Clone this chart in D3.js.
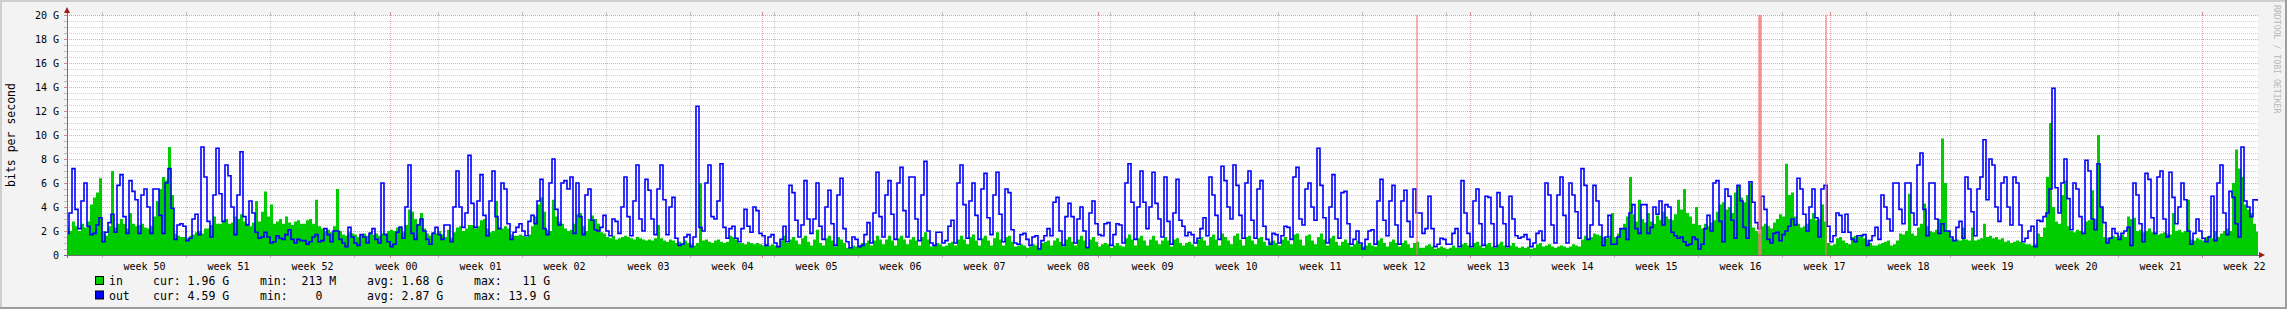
<!DOCTYPE html>
<meta charset="utf-8">
<style>
body { margin: 0; background: #f3f3f3; }
svg { display: block; }
text { font-family: "DejaVu Sans Mono", monospace; }
.axis text { font-size: 10px; fill: #000; }
.legend text { font-size: 11.5px; fill: #000; }
</style>
<body>
<div id="chart"></div>
<script src="https://d3js.org/d3.v7.min.js"></script>
<script>

// 6-hour samples, in Gbit/s, one array per month (December starts on the 5th)
var monthStarts = [Date.UTC(2014,11,5), Date.UTC(2015,0,1), Date.UTC(2015,1,1),
                   Date.UTC(2015,2,1), Date.UTC(2015,3,1), Date.UTC(2015,4,1), Date.UTC(2015,5,1)];

var outDec = [
  1.8,3.5,7.2,3.8, 2.2,4.5,6.0,2.4,  1.7,1.8,2.5,3.1, 1.1,1.9,2.7,3.4,
  1.9,5.8,6.7,3.2, 1.8,6.2,5.3,4.6,  1.8,5.0,5.5,4.0, 1.8,5.5,5.5,3.3,
  1.8,6.0,7.2,3.9, 1.3,2.5,2.6,2.4,  1.2,1.4,3.0,3.4, 1.7,9.0,6.5,2.8,
  1.5,5.0,8.9,5.1, 2.8,7.5,6.6,4.0,  1.7,5.0,8.6,3.2, 2.5,4.5,3.5,1.9,
  1.4,1.5,1.9,1.5, 1.0,1.1,1.6,1.4,  1.3,1.7,2.1,1.3, 1.0,1.3,1.2,1.2,
  0.9,1.1,1.5,1.7, 1.1,1.2,2.2,1.7,  1.1,2.0,2.0,1.3, 1.0,0.7,2.3,1.5,
  1.0,0.8,1.7,1.5, 1.0,1.8,2.2,1.3,  1.0,6.0,1.7,1.1
];
var outJan = [
  0.7,0.9,1.9,2.3, 1.4,4.0,7.5,1.8,  1.3,2.5,3.0,2.0, 1.3,0.9,1.8,2.3,
  1.7,1.3,2.5,2.5, 1.1,4.0,7.0,4.0,  2.3,3.5,8.3,4.3, 2.3,4.5,6.7,3.3,
  1.6,4.5,7.0,3.2, 2.2,6.0,5.5,2.6,  1.3,1.9,2.3,2.6, 2.0,1.6,2.8,3.3,
  2.6,4.5,6.3,2.2, 1.7,6.0,8.0,3.8,  2.5,6.0,6.2,5.5, 6.5,1.8,6.0,3.2,
  1.7,5.0,5.5,2.9, 2.1,2.0,2.3,3.3,  2.0,1.6,3.0,2.8, 1.8,4.0,6.5,3.2,
  1.6,4.5,7.5,3.0, 2.0,6.3,5.4,3.0,  1.7,5.5,7.5,4.6, 1.7,4.0,4.8,1.4,
  0.8,0.9,1.5,1.7, 0.7,1.5,12.4,2.3, 2.0,6.0,7.5,3.2, 3.0,4.5,7.6,2.3,
  1.4,2.2,2.4,1.4, 1.1,2.2,3.8,2.4,  1.9,4.0,3.7,1.8
];
var outFeb = [
  1.6,0.8,1.5,1.7, 1.0,0.7,1.3,2.4,  1.1,5.8,5.2,2.9, 1.5,2.5,6.2,3.0,
  1.8,3.0,6.0,2.4, 1.3,4.0,5.4,2.6,  0.8,5.0,6.4,2.2, 1.1,0.6,1.5,1.3,
  0.7,0.8,1.7,2.7, 1.0,3.5,6.9,3.2,  1.5,5.0,6.2,3.4, 1.3,6.0,7.3,3.7,
  1.5,6.5,6.5,3.0, 1.2,5.0,7.8,2.0,  1.0,0.8,1.9,1.9, 1.0,1.2,2.4,2.9,
  1.0,6.0,7.5,4.2, 1.4,4.5,6.0,3.3,  1.3,5.5,6.8,3.1, 1.7,5.0,6.9,3.4,
  1.1,5.5,5.2,2.1, 1.0,0.9,1.7,1.8,  1.3,0.8,1.5,1.6, 0.5,1.2,1.6,2.2,
  1.6,4.4,4.8,2.0, 0.8,3.2,4.3,3.2,  1.0,3.0,4.0,2.0, 0.6,3.5,4.5,2.6
];
var outMar = [
  1.7,1.6,2.6,2.7, 0.8,1.7,2.6,2.5,  1.0,6.0,7.6,4.4, 1.3,4.0,7.0,4.4,
  2.2,4.0,6.9,4.3, 3.0,1.5,6.5,2.8,  0.9,3.5,6.3,2.9, 2.4,1.6,1.9,1.7,
  1.0,1.4,2.2,3.1, 1.6,6.5,5.0,3.3,  1.3,7.4,6.2,4.0, 3.0,7.5,5.8,3.3,
  1.4,6.0,7.0,2.9, 1.4,5.5,6.2,2.4,  1.3,0.9,1.8,1.7, 1.0,1.6,2.4,2.3,
  1.3,6.5,7.3,3.0, 2.5,5.5,6.0,4.0,  2.9,8.9,5.8,3.1, 1.0,4.0,6.7,3.0,
  1.4,5.2,5.3,2.6, 0.9,1.3,2.0,1.0,  0.5,1.3,2.0,2.1, 0.9,4.5,6.3,2.9,
  1.6,4.5,5.8,2.5, 0.9,4.5,5.4,2.8,  1.5,5.5,3.5,3.5, 1.8,2.2,4.9,2.2,
  0.7,0.9,1.4,1.3, 0.9,0.9,1.8,2.2,  0.7,6.2,3.5,1.8
];
var outApr = [
  0.7,4.5,5.5,2.6, 0.8,4.9,4.8,2.6,  0.7,5.2,4.0,2.6, 0.7,4.9,3.0,1.6,
  1.4,1.5,1.7,1.3, 0.7,1.0,1.8,2.0,  1.2,6.0,5.0,2.5, 1.0,5.0,6.5,3.3,
  1.0,6.0,5.0,3.6, 1.4,7.2,5.8,1.3,  2.5,5.8,4.5,2.5, 0.8,1.5,3.3,0.9,
  0.9,1.5,2.2,2.2, 1.3,3.5,4.2,2.2,  1.8,4.2,4.2,1.8, 2.3,4.0,3.4,4.5,
  2.5,4.2,4.0,1.9, 1.6,1.4,1.5,1.1,  0.8,0.9,1.5,1.3, 0.5,0.9,2.2,3.3,
  2.0,6.0,6.2,2.8, 1.1,5.5,4.9,2.9,  1.4,5.8,4.5,2.3, 1.4,6.1,4.4,2.7,
  2.2,4.9,3.8,1.3, 1.0,1.8,1.9,1.2,  1.7,2.0,2.4,3.0, 2.5,6.4,5.5,3.4,
  2.0,4.0,5.5,3.1, 1.5,5.5,5.8,2.4
];
var outMay = [
  1.1,1.6,3.5,3.3, 1.9,3.4,1.9,1.3,  1.1,1.6,1.6,1.7, 0.8,1.2,1.6,2.3,
  1.3,5.0,4.0,3.0, 2.0,6.0,6.0,3.8,  2.6,6.0,6.0,3.5, 2.5,7.5,8.5,3.8,
  1.6,6.0,6.0,3.0, 1.8,2.6,2.0,2.0,  1.5,1.2,2.3,2.8, 1.4,6.5,5.5,3.6,
  1.6,5.5,6.5,9.6, 4.6,8.0,7.5,4.0,  2.8,6.0,6.5,4.0, 2.5,6.5,6.0,2.5,
  1.1,1.4,2.0,2.4, 0.7,2.9,2.8,3.2,  3.5,5.5,13.9,5.6, 3.5,6.0,8.0,4.7,
  2.1,6.0,5.5,3.2, 1.8,7.9,7.0,3.0,  2.1,7.6,4.0,2.7, 1.0,1.4,2.2,1.8,
  1.3,1.8,2.0,2.3, 0.8,6.0,5.0,2.6,  1.1,6.8,6.3,3.1, 1.8,6.5,7.0,3.0,
  1.5,6.9,4.8,2.6, 4.0,6.0,4.6,2.0,  0.9,1.8,3.0,2.0
];
var outJun = [
  1.4,1.1,1.5,4.9, 1.2,6.0,7.5,3.5,  1.7,5.3,4.8,2.6, 1.5,9.0,4.5,4.0,
  3.2,4.6,4.59
];

var inDec = [
  2.3,2.0,2.8,2.4, 2.0,2.6,2.3,2.8,  4.2,4.8,5.2,6.4, 2.0,1.6,2.4,7.0,
  2.3,2.6,3.0,2.6, 2.2,3.5,2.6,2.4,  2.5,2.6,2.3,2.2, 2.4,3.2,4.5,5.5,
  6.5,6.2,9.0,5.0, 1.8,1.6,1.5,1.5,  1.4,1.6,1.7,1.9, 2.0,1.8,2.2,2.2,
  2.5,3.2,2.6,2.6, 2.8,3.0,2.6,2.7,  3.2,3.0,3.4,2.8, 2.6,2.4,2.7,4.5,
  2.8,3.6,5.3,3.2, 4.2,2.6,2.8,3.0,  2.6,3.2,2.7,2.5, 2.8,2.9,2.6,2.6,
  2.9,3.0,2.6,4.6, 2.4,2.2,2.0,2.1,  1.9,2.4,5.5,2.0, 1.7,1.6,1.9,1.8,
  1.7,1.5,1.6,1.8, 1.6,1.9,1.7,1.8,  1.6,1.8,1.8,2.0
];
var inJan = [
  2.1,2.0,2.3,2.4, 1.9,2.5,3.8,3.6,  3.0,2.6,3.5,2.2, 1.8,1.6,1.9,1.8,
  2.0,1.7,1.5,2.1, 1.4,1.9,2.3,2.4,  2.0,2.2,2.5,2.5, 2.2,2.4,2.9,3.0,
  2.2,1.9,2.0,4.5, 2.3,2.2,2.4,2.2,  1.7,1.6,1.6,1.7, 1.6,1.5,1.7,2.4,
  3.2,4.2,4.8,3.6, 2.1,2.0,4.6,3.2,  2.8,2.6,2.2,2.0, 2.1,2.6,3.4,3.5,
  2.4,2.0,3.0,3.3, 3.0,2.6,1.9,1.8,  1.5,1.4,1.6,1.3, 1.4,1.5,1.6,1.5,
  1.4,1.3,1.5,1.4, 1.3,1.2,1.3,1.2,  1.4,2.5,1.4,1.2, 1.1,1.3,1.2,1.0,
  1.1,1.0,1.2,1.0, 0.9,0.8,1.0,6.0,  1.2,1.3,1.1,1.0, 1.2,1.3,1.1,1.0,
  1.1,1.6,1.5,1.3, 1.0,1.0,0.9,1.1,  1.0,0.9,1.0,0.9
];
var inFeb = [
  0.8,0.9,0.8,0.9, 0.8,0.7,1.2,1.6,  1.0,1.3,1.5,1.2, 0.9,1.4,1.6,1.1,
  0.8,1.3,2.1,1.0, 0.8,1.4,1.6,1.2,  0.7,1.5,1.3,1.0, 0.6,0.6,0.8,0.7,
  0.8,1.0,1.0,1.2, 0.8,1.2,1.6,1.3,  0.9,1.3,1.6,1.2, 0.8,1.4,1.6,1.3,
  0.9,1.3,1.5,1.2, 0.8,1.5,1.9,1.3,  0.7,0.8,1.0,0.9, 0.7,0.8,1.0,1.1,
  0.8,1.3,1.6,1.3, 0.9,1.5,1.7,1.2,  0.8,1.4,1.6,1.2, 0.8,1.4,1.9,1.3,
  0.8,1.5,1.6,1.1, 0.7,0.8,0.9,0.8,  0.6,0.7,0.9,0.8, 0.6,1.0,1.1,1.2,
  0.8,1.2,1.4,1.1, 0.7,1.3,1.5,1.1,  0.8,1.3,1.6,1.2, 0.7,1.3,1.5,1.1
];
var inMar = [
  0.7,0.9,1.0,0.9, 0.6,0.8,1.0,0.8,  0.7,1.4,1.7,1.3, 0.8,1.4,1.6,1.2,
  0.8,1.3,1.6,1.2, 0.9,1.2,1.5,1.2,  0.7,1.3,1.4,1.0, 0.8,1.0,1.1,0.9,
  0.7,1.3,1.5,1.2, 0.8,1.5,1.7,1.3,  0.8,1.8,1.5,1.2, 0.9,1.6,1.8,1.3,
  0.8,1.5,1.6,1.2, 0.9,1.4,1.5,1.1,  0.8,1.1,1.2,1.0, 0.8,1.3,1.5,1.2,
  0.9,1.7,1.8,1.3, 0.8,1.6,1.7,1.2,  0.9,1.5,1.8,1.3, 0.8,1.4,1.6,1.1,
  0.8,1.1,1.3,1.0, 0.7,0.9,1.2,0.9,  0.7,0.8,1.0,0.8, 0.7,1.2,1.4,1.0,
  0.7,1.1,1.3,1.0, 0.7,1.0,1.2,0.9,  0.6,1.0,1.1,0.6, 0.6,0.8,0.9,0.7,
  0.5,0.6,0.7,0.6, 0.5,0.6,0.8,0.6,  0.6,0.9,1.0,0.8
];
var inApr = [
  0.6,1.0,1.1,0.8, 0.6,0.9,1.0,0.7,  0.6,0.9,1.1,0.8, 0.6,0.8,1.0,0.7,
  0.6,0.7,0.6,0.7, 0.5,0.6,0.9,1.0,  0.7,0.8,0.9,0.7, 0.6,0.7,0.8,0.7,
  0.6,0.7,0.9,0.8, 0.7,1.3,1.6,1.4,  1.5,1.8,1.7,1.6, 1.5,1.4,1.6,3.5,
  1.5,1.8,2.2,2.6, 3.2,6.5,3.4,2.8,  4.6,3.0,2.7,3.5, 2.8,2.6,3.3,2.9,
  3.6,3.2,3.0,2.9, 3.4,4.6,3.8,5.5,  3.5,3.2,2.6,4.0, 2.5,2.2,2.6,2.4,
  2.7,2.9,3.6,4.2, 4.4,3.8,4.0,3.5,  5.2,5.8,4.8,4.4, 5.0,6.0,2.3,2.0,
  1.8,2.4,2.6,2.4, 2.2,2.7,3.0,3.4,  3.2,7.6,5.0,5.2, 3.2,2.6,2.3,2.4,
  2.6,3.0,3.5,2.9, 3.0,4.2,2.8,1.0
];
var inMay = [
  0.8,0.9,1.4,1.5, 1.2,1.0,0.9,1.5,  1.6,1.5,1.7,1.4, 1.3,1.0,0.8,0.8,
  0.9,1.0,1.1,1.2, 0.8,0.9,1.2,1.8,  1.7,2.0,5.1,1.8, 1.6,2.3,2.6,4.3,
  2.4,2.0,1.9,2.1, 3.0,9.7,6.0,2.0,  1.4,1.2,1.3,1.2, 2.3,1.3,1.2,2.3,
  1.2,1.3,1.4,2.6, 1.5,1.6,1.4,1.5,  1.3,1.4,1.1,1.2, 1.0,1.1,1.2,1.1,
  1.0,0.9,0.9,0.8, 0.9,1.8,1.5,2.3,  6.5,11.0,4.0,2.8, 2.6,5.0,6.2,2.4,
  2.0,1.9,2.1,2.0, 1.8,2.8,2.9,5.4,  3.0,10.0,4.0,1.5, 1.4,1.5,1.6,1.5,
  1.6,1.7,1.5,3.2, 3.0,3.1,2.0,2.1,  1.9,2.0,2.2,1.9, 1.8,1.7,1.8,1.9,
  1.8,1.7,3.5,2.0, 2.1,1.9,2.0,4.6,  1.3,1.2,1.4,1.3
];
var inJun = [
  1.2,1.5,1.6,1.4, 2.0,1.5,1.8,2.0,  2.2,2.0,6.0,8.8, 7.2,6.5,4.2,3.8,
  3.5,2.6,1.96
];

var yTicks = [0, 2, 4, 6, 8, 10, 12, 14, 16, 18, 20];
var weekLabels = ['week 50', 'week 51', 'week 52', 'week 00', 'week 01', 'week 02', 'week 03',
  'week 04', 'week 05', 'week 06', 'week 07', 'week 08', 'week 09', 'week 10', 'week 11',
  'week 12', 'week 13', 'week 14', 'week 15', 'week 16', 'week 17', 'week 18', 'week 19',
  'week 20', 'week 21', 'week 22'];
// red markers (the wide one is three events close together)
var events = [Date.UTC(2015,2,27,14), Date.UTC(2015,3,25,2), Date.UTC(2015,3,25,4),
              Date.UTC(2015,3,25,6), Date.UTC(2015,3,30,16)];
var legendNames = ['in', 'out'];
var legendCur = ['1.96 G', '4.59 G'];
var legendMin = [' 213 M', '   0'];
var legendAvg = ['1.68 G', '2.87 G'];
var legendMax = ['  11 G', '13.9 G'];

var width = 2287, height = 309,
    plot = {left: 67, right: 2258, top: 15, bottom: 255},
    colIn = '#00cc00', colOut = '#0000ff';

var start = new Date(Date.UTC(2014,11,5)), end = new Date(Date.UTC(2015,5,5,16));

function series(parts) {
  var pts = [];
  parts.forEach(function(vals, m) {
    vals.forEach(function(v, i) {
      pts.push({t: new Date(monthStarts[m] + i * 6 * 3600e3), v: v});
    });
  });
  pts.push({t: end, v: pts[pts.length - 1].v});
  return pts;
}
var dataIn = series([inDec, inJan, inFeb, inMar, inApr, inMay, inJun]);
var dataOut = series([outDec, outJan, outFeb, outMar, outApr, outMay, outJun]);

var x = d3.scaleUtc().domain([start, end]).range([66, plot.right]);
var y = d3.scaleLinear().domain([0, 20]).range([plot.bottom, plot.top]);

var svg = d3.select('#chart').append('svg')
  .attr('width', width).attr('height', height);

// background and frame
svg.append('rect').attr('width', width).attr('height', height).attr('fill', '#f3f3f3');
svg.append('rect').attr('x', 0).attr('y', 0).attr('width', width).attr('height', 2).attr('fill', '#cfcfcf');
svg.append('rect').attr('x', 0).attr('y', 0).attr('width', 2).attr('height', height).attr('fill', '#cfcfcf');
svg.append('rect').attr('x', 0).attr('y', height - 2).attr('width', width).attr('height', 2).attr('fill', '#9e9e9e');
svg.append('rect').attr('x', width - 2).attr('y', 0).attr('width', 2).attr('height', height).attr('fill', '#9e9e9e');

svg.append('rect')
  .attr('x', plot.left).attr('y', plot.top)
  .attr('width', plot.right - plot.left).attr('height', plot.bottom - plot.top)
  .attr('fill', '#fff');

svg.append('clipPath').attr('id', 'clip').append('rect')
  .attr('x', plot.left).attr('y', plot.top)
  .attr('width', plot.right - plot.left).attr('height', plot.bottom - plot.top);

// grid
var minorY = d3.range(0.5, 20.01, 0.5).filter(function(v) { return v % 2 !== 0; });
var mondays = d3.utcMonday.range(start, end);
var months = d3.utcMonth.range(start, end);
var isMonth = function(d) { return months.some(function(m) { return +m === +d; }); };
var grid = svg.append('g').attr('shape-rendering', 'crispEdges');

grid.selectAll('.hminor').data(minorY).enter().append('line')
  .attr('x1', plot.left).attr('x2', plot.right)
  .attr('y1', function(d) { return y(d); }).attr('y2', function(d) { return y(d); })
  .attr('stroke', '#cfcfcf').attr('stroke-dasharray', '1,1');
grid.selectAll('.vminor').data(mondays.filter(function(d) { return !isMonth(d); })).enter().append('line')
  .attr('x1', function(d) { return x(d); }).attr('x2', function(d) { return x(d); })
  .attr('y1', plot.top).attr('y2', plot.bottom)
  .attr('stroke', '#cfcfcf').attr('stroke-dasharray', '1,1');
grid.selectAll('.hmajor').data(yTicks.slice(1)).enter().append('line')
  .attr('x1', plot.left).attr('x2', plot.right)
  .attr('y1', function(d) { return y(d); }).attr('y2', function(d) { return y(d); })
  .attr('stroke', '#e3a6a6').attr('stroke-dasharray', '1,1');
grid.selectAll('.vmajor').data(months).enter().append('line')
  .attr('x1', function(d) { return x(d); }).attr('x2', function(d) { return x(d); })
  .attr('y1', plot.top).attr('y2', plot.bottom)
  .attr('stroke', '#e3a6a6').attr('stroke-dasharray', '1,1');

// small ticks on the frame of the plot
grid.selectAll('.ht').data(minorY.concat(yTicks)).enter().append('line')
  .attr('x1', plot.left - 3).attr('x2', plot.left)
  .attr('y1', function(d) { return y(d); }).attr('y2', function(d) { return y(d); })
  .attr('stroke', function(d) { return d % 2 === 0 ? '#d08a8a' : '#bdbdbd'; });
grid.selectAll('.vt').data(mondays.concat(months)).enter().append('path')
  .attr('d', function(d) { var xx = x(d); return 'M' + xx + ',' + (plot.top - 3) + 'V' + plot.top +
      'M' + xx + ',' + plot.bottom + 'V' + (plot.bottom + 3); })
  .attr('stroke', function(d) { return isMonth(d) ? '#d08a8a' : '#bdbdbd'; });

// data
var g = svg.append('g').attr('clip-path', 'url(#clip)');
g.append('path').datum(dataIn)
  .attr('fill', colIn)
  .attr('d', d3.area().curve(d3.curveStepAfter)
    .x(function(d) { return x(d.t); }).y0(y(0)).y1(function(d) { return y(d.v); }));
g.append('path').datum(dataOut)
  .attr('fill', 'none').attr('stroke', colOut).attr('stroke-width', 1.6)
  .attr('d', d3.line().curve(d3.curveStepAfter)
    .x(function(d) { return x(d.t); }).y(function(d) { return y(d.v); }));

g.selectAll('.ev').data(events).enter().append('line')
  .attr('x1', function(d) { return x(d); }).attr('x2', function(d) { return x(d); })
  .attr('y1', plot.top).attr('y2', plot.bottom)
  .attr('stroke', '#f07878').attr('stroke-width', 1.2);

// axes
var yAxis = d3.axisLeft(y).tickValues(yTicks).tickSize(0).tickPadding(8)
  .tickFormat(function(d) { return d === 0 ? '0' : d + ' G'; });
svg.append('g').attr('class', 'axis').attr('transform', 'translate(' + plot.left + ',0)')
  .call(yAxis).call(function(s) { s.select('.domain').remove(); });

var mids = mondays.map(function(d) { return d3.utcHour.offset(d, 84); });
var xAxis = d3.axisBottom(x).tickValues(mids).tickSize(0).tickPadding(8)
  .tickFormat(function(d, i) { return weekLabels[i]; });
svg.append('g').attr('class', 'axis').attr('transform', 'translate(0,' + plot.bottom + ')')
  .call(xAxis).call(function(s) { s.select('.domain').remove(); });

svg.append('line').attr('x1', plot.left).attr('x2', plot.left)
  .attr('y1', plot.bottom + 3).attr('y2', plot.top - 3)
  .attr('stroke', '#707070').attr('shape-rendering', 'crispEdges');
svg.append('line').attr('x1', plot.left - 3).attr('x2', plot.right + 2)
  .attr('y1', plot.bottom).attr('y2', plot.bottom)
  .attr('stroke', '#707070').attr('shape-rendering', 'crispEdges');
svg.append('path').attr('fill', '#9b1c1c')
  .attr('d', 'M' + (plot.left - 3) + ',' + (plot.top - 2) + 'L' + (plot.left + 3) + ',' + (plot.top - 2) +
     'L' + plot.left + ',' + (plot.top - 8) + 'Z');
svg.append('path').attr('fill', '#9b1c1c')
  .attr('d', 'M' + (plot.right + 1) + ',' + (plot.bottom - 3) + 'L' + (plot.right + 1) + ',' + (plot.bottom + 3) +
     'L' + (plot.right + 7) + ',' + plot.bottom + 'Z');

// titles
svg.append('text').attr('transform', 'translate(15,135) rotate(-90)')
  .attr('text-anchor', 'middle').style('font-size', '11.5px').text('bits per second');
svg.append('text').attr('transform', 'translate(2274,5) rotate(90)')
  .style('font-size', '8.2px').attr('fill', '#b8b8b8').text('RRDTOOL / TOBI OETIKER');

// legend
var leg = svg.append('g').attr('class', 'legend');
legendNames.forEach(function(name, i) {
  var yy = 285 + i * 14.5;
  leg.append('rect').attr('x', 95.5).attr('y', yy - 8.5).attr('width', 8).attr('height', 8)
    .attr('fill', i === 0 ? colIn : colOut).attr('stroke', '#000');
  leg.append('text').attr('x', 109).attr('y', yy).text(name);
  leg.append('text').attr('x', 153).attr('y', yy).text('cur: ' + legendCur[i]);
  leg.append('text').attr('x', 260).attr('y', yy).attr('xml:space', 'preserve').text('min: ' + legendMin[i]);
  leg.append('text').attr('x', 367).attr('y', yy).text('avg: ' + legendAvg[i]);
  leg.append('text').attr('x', 474).attr('y', yy).attr('xml:space', 'preserve').text('max: ' + legendMax[i]);
});

</script>
</body>
